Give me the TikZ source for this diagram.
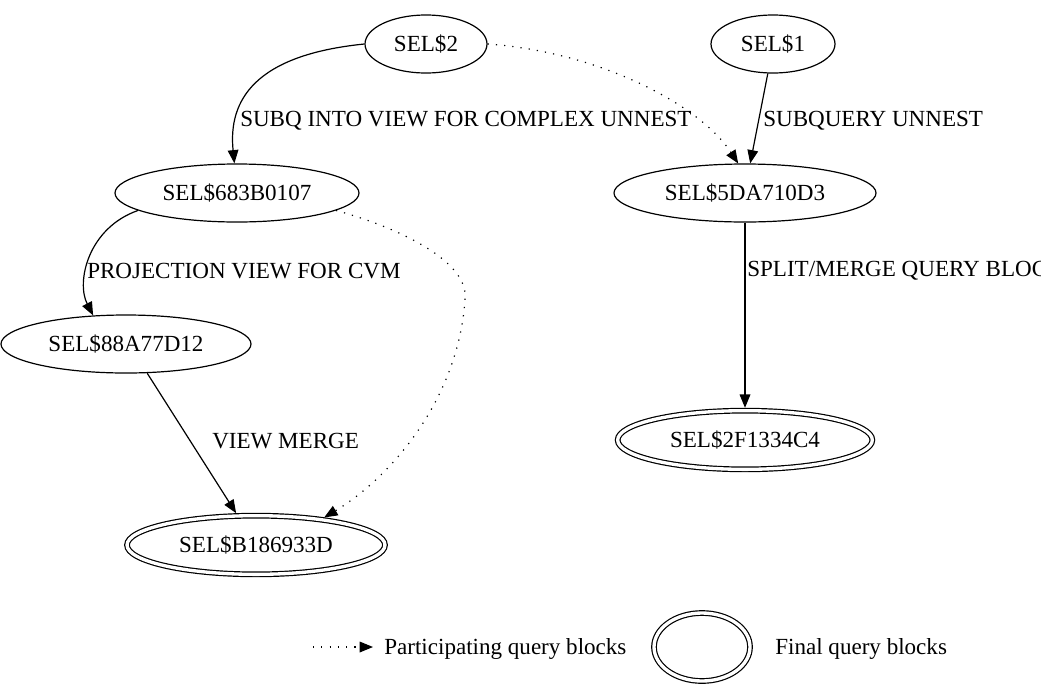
\documentclass[tikz,border=0pt]{standalone}
\usepackage{fontspec}
\setmainfont{Liberation Serif}
\usetikzlibrary{shapes.geometric,arrows.meta}

\tikzset{
  sel/.style={ellipse,draw,line width=0.9pt,inner sep=0pt,minimum height=43.5pt},
  finalsel/.style={sel,double,double distance=2.5pt,outer sep=2.15pt,minimum height=44pt},
  lbl/.style={anchor=west,inner sep=0pt},
  edge/.style={->,line width=0.9pt},
  part/.style={->,line width=0.9pt,dash pattern=on 0.9pt off 5.3pt},
  >={Triangle[length=10pt,width=8pt]}
}

\begin{document}
\begin{tikzpicture}[x=0.75pt,y=-0.75pt,font=\fontsize{17.3}{20}\selectfont]
\useasboundingbox (0,0) rectangle (1041,693);
\node (s2) at (426,44) [sel,minimum width=91.5pt] {SEL\$2};
\node (s1) at (773,44) [sel,minimum width=93pt] {SEL\$1};
\node (p683) at (237,193) [sel,minimum width=183pt] {SEL\$683B0107};
\node (p5da) at (745,193) [sel,minimum width=196.5pt] {SEL\$5DA710D3};
\node (p88a) at (126,344) [sel,minimum width=187.5pt] {SEL\$88A77D12};
\node (f2f1) at (745,440) [finalsel,minimum width=191pt] {SEL\$2F1334C4};
\node (fb18) at (256,545) [finalsel,minimum width=193.5pt] {SEL\$B186933D};
% edge labels
\node (l1) at (240,121) [lbl] {SUBQ INTO VIEW FOR COMPLEX UNNEST};
\node (l2) at (763,121) [lbl] {SUBQUERY UNNEST};
\node (l3) at (87,271) [lbl] {PROJECTION VIEW FOR CVM};
\node (l4) at (747,271) [lbl] {SPLIT/MERGE QUERY BLOCK};
\node (l5) at (212,441) [lbl] {VIEW MERGE};
% edges
\draw[edge] (s2.west) .. controls (255,55) and (228,100) .. (p683.95);
\draw[part] (s2.east) .. controls (600,52) and (700,105) .. (p5da.103);
\draw[edge] (s1.260) -- (p5da.80);
\draw[edge] (p683.190) .. controls (88,228) and (76,282) .. (p88a.139);
\draw[part] (p683.350) .. controls (400,228) and (470,262) .. (465,300)
  .. controls (458,400) and (390,478) .. (fb18.22);
\draw[edge] (p88a.306) -- (fb18.122);
\draw[edge] (p5da) -- (f2f1);
% legend
\coordinate (lega) at (313,647);
\coordinate (legb) at (373,647);
\draw[part] (lega) -- (legb);
\node (legt1) at (384,649) [lbl] {Participating query blocks};
\node (lege) at (702,647) [finalsel,minimum width=72pt,minimum height=51pt] {};
\node (legt2) at (775,649) [lbl] {Final query blocks};
\end{tikzpicture}
\end{document}
